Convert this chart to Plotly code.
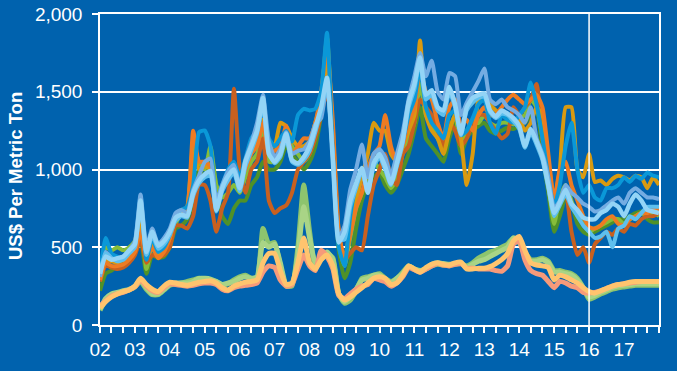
import pandas as pd
import plotly.graph_objects as go

# bi-monthly sample dates, Jan 2002 .. Jan 2018
dates = pd.date_range("2002-01-01", periods=97, freq="2MS")

# ---- upper group (US$ per metric ton) ----
dark_green = [
    220, 330, 350, 380, 400, 420,
    460, 550, 330, 450, 430, 440,
    500, 620, 640, 680, 800, 1000,
    950, 1100, 900, 700, 650, 750,
    800, 800, 900, 950, 1050, 1000,
    1000, 1050, 1150, 1100, 1050, 1000,
    1050, 1150, 1350, 1800, 1100, 480,
    300, 400, 620, 800, 900, 950,
    980, 900, 850, 900, 1000, 1100,
    1250, 1400, 1200, 1150, 1100, 1050,
    1200, 1300, 1100, 1200, 1250, 1280,
    1300, 1250, 1230, 1250, 1270, 1260,
    1280, 1300, 1350, 1380, 1100, 850,
    600, 700, 820, 780, 650, 600,
    580, 600, 620, 640, 660, 680,
    680, 700, 720, 730, 680, 660,
    660]
green = [
    280, 500, 480, 500, 480, 500,
    540, 700, 360, 500, 450, 470,
    560, 650, 720, 760, 1150, 1050,
    1000, 1150, 900, 820, 850, 900,
    850, 950, 1050, 1100, 1250, 1050,
    1050, 1100, 1250, 1150, 1100, 1050,
    1100, 1250, 1450, 1850, 1200, 520,
    380, 560, 750, 850, 950, 1050,
    1000, 950, 880, 950, 1100, 1200,
    1300, 1550, 1350, 1300, 1200, 1150,
    1250, 1350, 1150, 1250, 1300, 1300,
    1350, 1300, 1280, 1300, 1300, 1290,
    1330, 1350, 1450, 1400, 1200, 900,
    650, 820, 900, 800, 700, 650,
    600, 620, 640, 660, 680, 680,
    650, 680, 700, 720, 700, 720,
    700]
rust = [
    280, 380, 370, 360, 370, 400,
    450, 550, 400, 450, 440, 450,
    500, 640, 640, 620, 700, 900,
    900, 800, 600, 750, 850, 1520,
    1000, 850, 1000, 1050, 1200, 800,
    720, 750, 770, 850, 1000, 1050,
    1100, 1200, 1350, 1500, 1200, 600,
    420, 460, 500, 480, 700, 900,
    1000, 1100, 950, 900, 1100, 1150,
    1300, 1450, 1400, 1350, 1250, 1150,
    1300, 1250, 1150, 1200, 1300, 1350,
    1350, 1300, 1250, 1200, 1230, 1400,
    1350, 1400, 1450, 1550, 1200, 900,
    720, 800, 850, 600, 450, 500,
    400, 520, 560, 600, 580, 620,
    600, 650, 640, 680, 700, 700,
    720]
gold = [
    300, 420, 410, 400, 420, 440,
    480, 650, 440, 520, 460, 490,
    560, 700, 740, 750, 1100, 1000,
    1020, 1000, 760, 870, 940, 990,
    900, 1010, 1120, 1200, 1320, 1150,
    1150, 1300, 1280, 1200, 1150, 1150,
    1180, 1300, 1450, 1700, 1250, 560,
    430, 620, 800, 950, 1100, 1300,
    1250, 1250, 1100, 1050, 1150, 1250,
    1350, 1830, 1350, 1250, 1200, 1100,
    1250, 1350, 1200, 900, 1100, 1450,
    1480, 1420, 1380, 1350, 1330, 1300,
    1320, 1250, 1300, 1400, 1350, 1050,
    800, 1000, 1400, 1400, 1000, 950,
    1100, 920, 930, 900, 940, 960,
    950, 930, 960, 950, 880, 950,
    900]
orange = [
    290, 400, 380, 380, 390, 420,
    470, 600, 430, 500, 430, 470,
    560, 690, 730, 760, 1250, 1050,
    1050, 1020, 780, 880, 950, 980,
    930, 1000, 1100, 1150, 1300, 1100,
    1120, 1150, 1280, 1100, 1150, 1200,
    1200, 1300, 1500, 1780, 1300, 600,
    420, 580, 750, 850, 1000, 1100,
    1150, 1350, 1150, 1050, 1150, 1300,
    1400, 1630, 1500, 1450, 1300, 1200,
    1400, 1450, 1280, 1320, 1250, 1350,
    1400, 1350, 1350, 1400, 1450, 1480,
    1450, 1420, 1450, 1480, 1400, 1100,
    800, 1000, 1050, 900, 800, 700,
    630, 620, 640, 680, 700, 650,
    640, 680, 700, 720, 720, 740,
    740]
blue = [
    320, 560, 460, 440, 430, 470,
    520, 830, 420, 560, 470, 500,
    580, 700, 740, 760, 900, 1240,
    1250, 1150, 800, 900, 1000, 1050,
    950, 1070, 1200, 1250, 1400, 1200,
    1150, 1200, 1250, 1180, 1350, 1390,
    1380, 1390, 1500, 1880, 1100, 500,
    380, 700, 900, 1000, 870, 1020,
    1080, 1050, 970, 1080, 1180, 1350,
    1450, 1650, 1400, 1300, 1250, 1200,
    1350, 1380, 1220, 1250, 1330, 1420,
    1450, 1300, 1230, 1350, 1320, 1300,
    1350, 1400, 1560, 1420, 1200, 950,
    760, 900, 1150, 1300, 1000, 850,
    900, 820, 800, 880, 880, 900,
    950, 920, 960, 940, 980, 960,
    950]
pale_blue = [
    310, 470, 430, 420, 440, 480,
    540, 840, 500, 620, 520, 560,
    620, 720, 740, 720, 870, 960,
    1050, 1070, 800, 900, 990, 1030,
    900, 1060, 1170, 1300, 1480, 1180,
    1080, 1130, 1240, 1100, 1120, 1130,
    1180, 1290, 1330, 1560, 1080, 560,
    640, 870, 1000, 1160, 950, 1100,
    1130, 1080, 960, 1100, 1240, 1450,
    1600, 1750, 1600, 1700, 1500, 1450,
    1620, 1600, 1350, 1430, 1500, 1570,
    1650, 1450, 1420, 1450, 1400, 1380,
    1350, 1300, 1400, 1200, 1100, 950,
    750, 800, 900, 850, 820, 780,
    760, 730, 740, 770, 800, 820,
    780, 850, 880, 850, 820, 820,
    810]
sky_blue = [
    340, 460, 430, 410, 420, 460,
    500, 780, 450, 580, 490, 520,
    580, 670, 700, 690, 830, 910,
    950, 960, 730, 860, 930, 980,
    860, 1020, 1120, 1230, 1420, 1120,
    1040, 1080, 1200, 1050, 1030, 1060,
    1120, 1240, 1380, 1560, 1080, 550,
    550, 760, 880, 990, 860, 1020,
    1080, 1000, 900, 1020, 1170, 1400,
    1520, 1700, 1450, 1480, 1380, 1350,
    1500, 1400, 1220, 1380, 1430, 1460,
    1470, 1370, 1330, 1360, 1350, 1310,
    1260, 1140, 1240, 1160, 1060, 880,
    700, 770, 840, 760, 700, 640,
    600, 560, 570, 600, 500, 620,
    640, 700, 680, 720, 760, 760,
    760]
light_blue = [
    330, 440, 420, 430, 440, 480,
    520, 800, 470, 600, 510, 540,
    600, 690, 710, 700, 850, 930,
    970, 990, 740, 880, 960, 1000,
    880, 1050, 1150, 1250, 1460, 1100,
    1050, 1100, 1230, 1060, 1040, 1080,
    1150, 1270, 1400, 1590, 1050, 530,
    600, 800, 910, 1010, 850, 1040,
    1100, 1020, 910, 1040, 1190, 1430,
    1550, 1720, 1480, 1510, 1400, 1380,
    1530, 1420, 1230, 1400, 1460, 1480,
    1490, 1380, 1340, 1380, 1360, 1330,
    1280, 1150, 1260, 1180, 1080, 900,
    720, 790, 870, 780, 740, 690,
    680, 680, 720, 740, 780, 760,
    700, 780, 840, 800, 740, 730,
    720]

# ---- lower group ----
green_low = [
    95, 160, 190, 205, 215, 225,
    245, 280, 230, 195, 195, 225,
    255, 265, 270, 280, 290, 300,
    290, 285, 280, 255, 265, 290,
    310, 320, 300, 300, 620, 520,
    530, 380, 250, 250, 500, 900,
    600, 380, 420, 460, 430, 200,
    140, 160, 220, 300, 310, 320,
    330, 300, 280, 300, 340, 380,
    360, 350, 360, 380, 390, 385,
    385, 390, 395, 380, 400, 430,
    450, 470, 480, 500, 520, 560,
    530, 470, 420, 420, 430, 410,
    350, 350, 340, 330, 300, 240,
    165, 180, 200, 215, 230, 240,
    245, 250, 255, 255, 255, 255,
    255]
pale_green_low = [
    100, 170, 200, 210, 220, 230,
    250, 290, 240, 200, 200, 230,
    260, 270, 270, 270, 280, 300,
    300, 295, 280, 260, 270, 280,
    300, 310, 300, 310, 530, 500,
    520, 400, 260, 260, 450, 760,
    560, 400, 430, 470, 420, 200,
    150, 180, 230, 290, 300, 320,
    320, 290, 270, 300, 330, 380,
    360, 350, 360, 390, 400, 395,
    390, 395, 400, 370, 390, 410,
    420, 440, 460, 480, 500, 560,
    540, 460, 410, 410, 420, 400,
    340, 340, 330, 320, 290, 240,
    180, 190, 210, 225, 240, 250,
    255, 260, 265, 265, 265, 265,
    265]
salmon_low = [
    120, 155, 185, 200, 210, 225,
    245, 290, 250, 220, 210, 240,
    265, 260, 255, 250, 255, 265,
    270, 270, 260, 230, 220, 240,
    250, 255, 260, 270, 340, 380,
    370, 290, 250, 260, 360, 450,
    380, 350, 480, 440, 360, 190,
    170, 200, 230, 250, 260, 300,
    290, 280, 250, 270, 310, 370,
    355, 340, 360, 380, 395, 385,
    380, 390, 395, 365, 365, 360,
    360, 360, 350, 345, 380, 520,
    540, 420, 350, 330, 320, 280,
    240, 280, 270, 250, 240, 210,
    205, 210, 220, 235, 250, 260,
    265, 270, 275, 280, 280, 280,
    280]
light_orange_low = [
    110, 150, 180, 200, 215, 225,
    250, 300, 260, 230, 215, 250,
    275, 270, 260, 255, 265, 275,
    280, 285, 270, 240, 225, 250,
    265, 275, 280, 290, 400, 460,
    460, 350, 260, 270, 400, 560,
    400, 360, 420, 450, 380, 200,
    160, 180, 210, 240, 270, 300,
    310, 300, 260, 270, 320, 380,
    360, 340, 370, 390, 400, 390,
    385, 400, 405, 360, 360, 365,
    365, 375, 395, 420, 460, 540,
    570, 480, 400, 386, 380, 370,
    290, 320, 310, 290, 270, 240,
    215, 205, 220, 235, 250, 260,
    265, 275, 280, 280, 280, 280,
    280]

series = [
    ("Dark green", dark_green, "#4F9128", 4),
    ("Green", green, "#86BD3A", 4),
    ("Rust", rust, "#C8601F", 4),
    ("Gold", gold, "#D99A10", 4),
    ("Orange", orange, "#EE7B22", 4),
    ("Blue", blue, "#0A98D8", 4),
    ("Pale blue", pale_blue, "#74ACE2", 4),
    ("Sky blue", sky_blue, "#5EC0EE", 4),
    ("Light blue", light_blue, "#93D4F6", 4.5),
    ("Green (low)", green_low, "#8DC46E", 5),
    ("Pale green (low)", pale_green_low, "#A9D486", 5),
    ("Salmon (low)", salmon_low, "#F69A7A", 5),
    ("Light orange (low)", light_orange_low, "#FFC46E", 5),
]

year_ticks = pd.date_range("2002-01-01", "2017-01-01", freq="YS")
year_labels = [d.strftime("%y") for d in year_ticks]

BG = "#0062AE"
fig = go.Figure()
for name, vals, color, w in series:
    fig.add_trace(go.Scatter(x=dates, y=vals, mode="lines", name=name,
                             line=dict(color=color, width=w,
                                       shape="spline", smoothing=0.5)))

fig.add_shape(type="line", xref="x", yref="paper",
              x0="2016-01-01", x1="2016-01-01", y0=0, y1=1,
              line=dict(color="white", width=1.5))

fig.add_annotation(text="<b>US$ Per Metric Ton</b>", xref="paper", yref="paper",
                   x=-0.152, y=0.479, textangle=-90, showarrow=False,
                   xanchor="center", yanchor="middle",
                   font=dict(size=18.5, color="white"))

fig.update_layout(
    width=677, height=371,
    paper_bgcolor=BG, plot_bgcolor=BG,
    margin=dict(l=100, r=18, t=14, b=46, autoexpand=False),
    showlegend=False,
    font=dict(family="Liberation Sans, Arial, sans-serif", color="white", size=19),
    xaxis=dict(
        range=["2002-01-01", "2018-01-01"], automargin=False,
        tickvals=list(year_ticks), ticktext=year_labels,
        ticks="outside", ticklen=6, tickcolor="white", tickwidth=1.5,
        showgrid=False, zeroline=False,
        showline=True, linecolor="white", linewidth=1.5, mirror=True,
        minor=dict(dtick="M4", tick0="2002-01-01", ticks="outside",
                   ticklen=6, tickcolor="white", tickwidth=1.5, showgrid=False),
        tickfont=dict(size=19, color="white"),
    ),
    yaxis=dict(
        range=[0, 2000], automargin=False, tickvals=[0, 500, 1000, 1500, 2000],
        tickformat=",", ticks="outside", ticklen=6, tickcolor="white", tickwidth=1.5,
        showgrid=True, gridcolor="white", gridwidth=1.5,
        zeroline=False, showline=True, linecolor="white", linewidth=1.5, mirror=True,
        tickfont=dict(size=19, color="white"),
        ticklabelstandoff=6,
    ),
)

fig.write_html("out.html", config={"displayModeBar": False},
               post_script="document.body.style.margin='0';"
                           "document.body.style.background='" + BG + "';")
